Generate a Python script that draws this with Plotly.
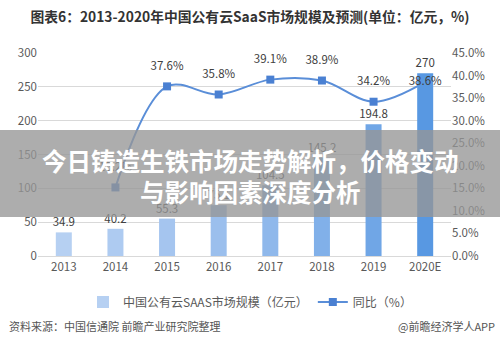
import plotly.graph_objects as go

years = ["2013", "2014", "2015", "2016", "2017", "2018", "2019", "2020E"]
market_size = [34.9, 40.2, 55.3, 75.1, 104.5, 145.2, 194.8, 270]
growth = [None, 15.2, 37.6, 35.8, 39.1, 38.9, 34.2, 38.6]
growth_labels = ["" if g is None else f"{g}%" for g in growth]
growth_label_pos = ["top center"] * 7 + ["middle center"]
bar_colors = ["#b6d0f2", "#aecbf1", "#a5c5ef", "#9bbfed", "#8fb8eb", "#81b0e9", "#70a6e6", "#5898e2"]

title_text = "图表6：2013-2020年中国公有云SaaS市场规模及预测(单位：亿元，%)"
bar_name = "中国公有云SAAS市场规模（亿元）"
line_name = "同比（%）"
source_text = "资料来源：中国信通院 前瞻产业研究院整理"
brand_text = "@前瞻经济学人APP"
overlay_line1 = "今日铸造生铁市场走势解析，价格变动"
overlay_line2 = "与影响因素深度分析"

FONT = "Noto Sans CJK SC, Noto Sans, sans-serif"
GREY = "#595959"

fig = go.Figure()

# line (drawn in base subplot, under the bars)
fig.add_trace(go.Scatter(
    x=years, y=growth, name=line_name, yaxis="y2",
    mode="lines+markers",
    line=dict(color="#5a8ed8", width=2, shape="spline", smoothing=1.0),
    marker=dict(symbol="square", size=8, color="#4a80d2"),
    connectgaps=False,
))

# bars (overlay subplot on top of line)
fig.add_trace(go.Bar(
    x=years, y=market_size, name=bar_name, yaxis="y",
    marker=dict(color=bar_colors, line=dict(width=0)),
    text=market_size, texttemplate="%{y}", textposition="outside",
    constraintext="none",
    textfont=dict(size=11.5, color="#404040", family=FONT),
    cliponaxis=False,
))

# growth labels (top overlay); invisible markers give the label offset
fig.add_trace(go.Scatter(
    x=years, y=growth, yaxis="y3", mode="markers+text",
    marker=dict(size=20, opacity=0),
    text=growth_labels, textposition=growth_label_pos,
    textfont=dict(size=11.5, color="#404040", family=FONT),
    showlegend=False, hoverinfo="skip", cliponaxis=False,
))

fig.update_layout(
    width=500, height=350,
    margin=dict(l=38, r=49, t=53, b=94),
    paper_bgcolor="white", plot_bgcolor="white",
    font=dict(family=FONT, color=GREY, size=11.5),
    bargap=0.69,
    uniformtext=dict(mode=False),
    title=dict(text="<b>" + title_text + "</b>", x=0.5, xref="container", xanchor="center",
               y=1 - 17 / 350, yref="container", yanchor="middle",
               font=dict(size=13.8, color="#333333", family=FONT)),
    xaxis=dict(type="category", range=[-0.5, len(years) - 0.5], autorange=False,
               showgrid=False, showline=True, linecolor="#d9d9d9", linewidth=1,
               ticks="", tickfont=dict(size=11.5, color=GREY)),
    yaxis2=dict(range=[0, 45], dtick=5, side="right", showgrid=False, zeroline=False,
                tickformat=".1f", ticksuffix="%", tickfont=dict(size=11.5, color=GREY)),
    yaxis=dict(range=[0, 300], dtick=50, side="left", overlaying="y2", showgrid=True,
               gridcolor="#d9d9d9", zeroline=False, tickfont=dict(size=11.5, color=GREY)),
    yaxis3=dict(range=[0, 45], overlaying="y2", visible=False, showgrid=False),
    legend=dict(orientation="h", x=0.5, xref="container", xanchor="center",
                y=1 - 302 / 350, yref="container", yanchor="middle",
                font=dict(size=12, color=GREY, family=FONT), traceorder="reversed",
                itemwidth=30),
    showlegend=True,
)

# grey overlay band with big caption
fig.add_shape(type="rect", xref="paper", yref="paper",
              x0=-38 / 413, x1=462 / 413, y0=(256 - 217) / 203, y1=(256 - 130) / 203,
              fillcolor="rgba(150,150,150,0.78)", line=dict(width=0), layer="above")
fig.add_annotation(text="<b>" + overlay_line1 + "</b>", xref="paper", yref="paper",
                   x=(250 - 38) / 413, y=(256 - 160) / 203, showarrow=False,
                   xanchor="center", yanchor="middle",
                   font=dict(size=24.5, color="white", family=FONT))
fig.add_annotation(text="<b>" + overlay_line2 + "</b>", xref="paper", yref="paper",
                   x=(250 - 38) / 413, y=(256 - 191) / 203, showarrow=False,
                   xanchor="center", yanchor="middle",
                   font=dict(size=24.5, color="white", family=FONT))

# source notes
fig.add_annotation(text=source_text, xref="paper", yref="paper",
                   x=(7 - 38) / 413, y=(256 - 326) / 203, showarrow=False,
                   xanchor="left", yanchor="middle", font=dict(size=11, color="#555555"))
fig.add_annotation(text=brand_text, xref="paper", yref="paper",
                   x=(497 - 38) / 413, y=(256 - 326) / 203, showarrow=False,
                   xanchor="right", yanchor="middle", font=dict(size=11, color="#555555"))

fig.write_html("out.html")
